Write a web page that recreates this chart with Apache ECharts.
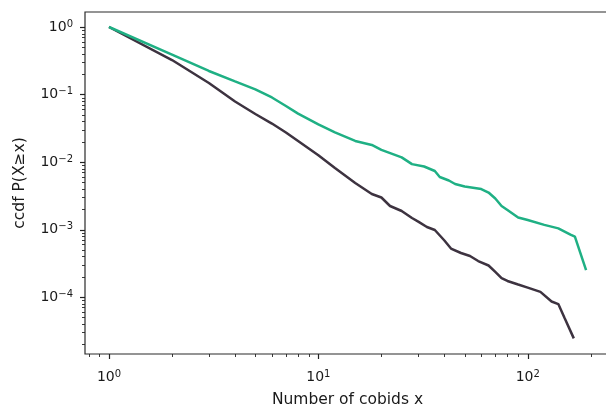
<!DOCTYPE html>
<html><head><meta charset="utf-8">
<script src="https://cdn.jsdelivr.net/npm/echarts@6/dist/echarts.min.js"></script>
<style>html,body{margin:0;padding:0;background:#fff}#c{width:606px;height:407px}</style>
</head><body><div id="c"></div>
<script>
// ---- data ----
const greenX = [1,2,3,4,5,6,7,8,10,12,15,18,20,25,28,32,36,38,42,45,50,60,65,70,75,80,90,100,120,140,160,168,190];
const greenY = [1,0.39,0.223,0.156,0.119,0.0903,0.0676,0.052,0.0362,0.0274,0.0205,0.0179,0.0151,0.0117,0.0093,0.00858,0.00736,0.006,0.00532,0.00472,0.00434,0.00398,0.00353,0.00288,0.00223,0.00195,0.00151,0.00138,0.00117,0.00104,0.000843,0.000787,0.000251];
const darkX = [1,2,3,4,5,6,7,8,10,12,15,18,20,22,25,28,30,33,36,40,43,48,53,58,65,70,75,80,90,100,115,130,140,150,166];
const darkY = [1,0.324,0.148,0.0787,0.0514,0.0371,0.0274,0.0205,0.0126,0.00815,0.0049,0.00336,0.00298,0.00223,0.00188,0.00148,0.00131,0.00109,0.000984,0.000687,0.000523,0.000449,0.000405,0.000341,0.000293,0.000235,0.000191,0.000173,0.000153,0.000138,0.000119,0.0000858,0.0000787,0.0000489,0.0000244];
const xMajorTicks = [1, 10, 100];
const yMajorTicks = [1, 0.1, 0.01, 0.001, 0.0001];
const xTitle = 'Number of cobids x';
const yTitle = 'ccdf P(X\u2265x)';

// ---- layout / style ----
const xMin = Math.pow(10, -0.1146), xMax = Math.pow(10, 2.393);
const yMin = Math.pow(10, -4.844), yMax = Math.pow(10, 0.222);
const FONT = 'DejaVu Sans';
const TXT = '#1a1a1a';

function minorList(lo, hi) {
  const out = [];
  for (let n = -6; n <= 3; n++) for (let k = 2; k <= 9; k++) {
    const v = k * Math.pow(10, n);
    if (v > lo && v < hi) out.push(v);
  }
  return out;
}
const MAJ = 5, MIN = 3;
const xTickData = xMajorTicks.map(v => [v, yMin, MAJ]).concat(minorList(xMin, xMax).map(v => [v, yMin, MIN]));
const yTickData = yMajorTicks.map(v => [xMin, v, MAJ]).concat(minorList(yMin, yMax).map(v => [xMin, v, MIN]));

function tickSeries(data, dir) {
  return {
    type: 'custom', coordinateSystem: 'cartesian2d', silent: true, clip: false, z: 5,
    data: data, encode: {x: 0, y: 1},
    renderItem: function (params, api) {
      const p = api.coord([api.value(0), api.value(1)]);
      const len = api.value(2);
      let shape;
      if (dir === 'x') { const x = Math.round(p[0]) + 0.5; shape = {x1: x, y1: p[1], x2: x, y2: p[1] + len}; }
      else { const y = Math.round(p[1]) + 0.5; shape = {x1: p[0] - len, y1: y, x2: p[0], y2: y}; }
      return {type: 'line', shape: shape, style: {stroke: '#222', lineWidth: len === MAJ ? 1.2 : 0.9}};
    }
  };
}

function fmt(v) {
  const l = Math.log10(v), e = Math.round(l);
  if (Math.abs(l - e) > 1e-6) return '';
  const s = e < 0 ? '\u2212' + (-e) : '' + e;
  return '{b|10}{s|' + s + '}';
}
const rich = {
  b: {fontSize: 14, fontFamily: FONT, color: TXT, lineHeight: 16},
  s: {fontSize: 10, fontFamily: FONT, color: TXT, lineHeight: 9, verticalAlign: 'top'}
};

const chart = echarts.init(document.getElementById('c'), null, {renderer: 'canvas'});
chart.setOption({
  animation: false,
  backgroundColor: '#fff',
  grid: {left: 85, right: -4, top: 12, bottom: 53, show: true, containLabel: false, outerBoundsMode: 'none',
         borderColor: '#2a2a2a', borderWidth: 1.2, backgroundColor: 'transparent'},
  xAxis: {
    type: 'log', logBase: 10, min: xMin, max: xMax,
    name: xTitle, nameLocation: 'middle', nameGap: 38,
    nameTextStyle: {fontFamily: FONT, fontSize: 15.5, color: TXT},
    axisLine: {show: false}, axisTick: {show: false}, splitLine: {show: false}, minorTick: {show: false},
    axisLabel: {formatter: fmt, rich: rich, margin: 15, fontFamily: FONT}
  },
  yAxis: {
    type: 'log', logBase: 10, min: yMin, max: yMax,
    name: yTitle, nameLocation: 'middle', nameGap: 57, nameRotate: 90,
    nameTextStyle: {fontFamily: FONT, fontSize: 15.5, color: TXT},
    axisLine: {show: false}, axisTick: {show: false}, splitLine: {show: false}, minorTick: {show: false},
    axisLabel: {formatter: fmt, rich: rich, margin: 12, fontFamily: FONT}
  },
  series: [
    {type: 'line', data: darkX.map((x, i) => [x, darkY[i]]), showSymbol: false, symbol: 'none',
     lineStyle: {color: '#3d3340', width: 2.5}, z: 3},
    {type: 'line', data: greenX.map((x, i) => [x, greenY[i]]), showSymbol: false, symbol: 'none',
     lineStyle: {color: '#1fb084', width: 2.5}, z: 4},
    tickSeries(xTickData, 'x'),
    tickSeries(yTickData, 'y')
  ]
});
</script></body></html>
